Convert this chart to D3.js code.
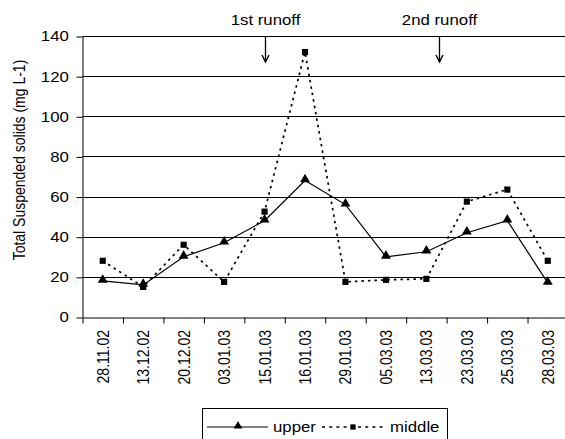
<!DOCTYPE html>
<html>
<head>
<meta charset="utf-8">
<script src="https://cdn.jsdelivr.net/npm/d3@7"></script>
<style>
  body { margin: 0; background: #fff; }
  svg { display: block; font-family: "Liberation Sans", Arial, sans-serif; }
</style>
</head>
<body>
<svg id="svgId"></svg>
<script>
// dates of sampling
var dates = ["28.11.02", "13.12.02", "20.12.02", "03.01.03", "15.01.03", "16.01.03",
             "29.01.03", "05.03.03", "13.03.03", "23.03.03", "25.03.03", "28.03.03"];
var upper = [18, 16, 30, 37, 48, 68, 56, 30, 32.5, 42, 48, 17];
var middle = [28, 15, 36, 17.5, 52.5, 132, 17.5, 18.5, 19, 57.5, 63.5, 28];
var yTicks = [0, 20, 40, 60, 80, 100, 120, 140];
// runoff events, position as category index
var runoffLabels = ["1st runoff", "2nd runoff"];
var runoffPos = [4.5, 8.82];

var svgWidth = 565, svgHeight = 439;
var margin = { top: 36, left: 82.5, bottom: 122 };
var plotRight = 568;
var height = svgHeight - margin.top - margin.bottom;
var fs = 14, sx = 1.2;   // the original text is a bit stretched sideways

var svg = d3.select("#svgId")
    .attr("width", svgWidth)
    .attr("height", svgHeight);

var x = d3.scaleBand().domain(dates).range([margin.left, plotRight]).paddingInner(0).paddingOuter(0);
var xi = d3.scaleLinear().domain([0, dates.length]).range([margin.left, plotRight]);
var y = d3.scaleLinear().domain([0, 140]).range([margin.top + height, margin.top]);

// gridlines
svg.append("g")
    .selectAll("line")
    .data(yTicks.filter(function (d) { return d > 0; }))
    .enter().append("line")
    .attr("x1", margin.left).attr("x2", plotRight)
    .attr("y1", function (d) { return Math.round(y(d)) + 0.5; })
    .attr("y2", function (d) { return Math.round(y(d)) + 0.5; })
    .attr("stroke", "#000")
    .attr("stroke-width", 1);

// y axis
var yAxis = svg.append("g")
    .attr("transform", "translate(" + margin.left + ",0.5)")
    .call(d3.axisLeft(y).tickValues(yTicks).tickSize(6).tickSizeOuter(0));
yAxis.selectAll("text")
    .attr("font-size", fs).attr("fill", "#000")
    .attr("font-family", "Liberation Sans, Arial, sans-serif")
    .attr("x", -11.4)
    .attr("transform", "scale(" + sx + ",1)");
yAxis.selectAll("line").attr("stroke", "#000");
yAxis.select(".domain").attr("stroke", "#000");

// x axis
var xAxis = svg.append("g")
    .attr("transform", "translate(0," + (Math.round(y(0)) + 0.5) + ")")
    .call(d3.axisBottom(xi).tickValues(d3.range(0, dates.length + 1)).tickFormat("").tickSize(6).tickSizeOuter(0));
xAxis.selectAll("line").attr("stroke", "#000");
xAxis.select(".domain").attr("stroke", "#000");

svg.append("g")
    .selectAll("text")
    .data(dates)
    .enter().append("text")
    .attr("transform", function (d) {
        return "translate(" + (x(d) + x.bandwidth() / 2 + 6) + "," + (y(0) + 13) + ") scale(" + sx + ",1) rotate(-90)";
    })
    .attr("text-anchor", "end")
    .attr("font-size", fs)
    .attr("fill", "#000")
    .text(function (d) { return d; });

// y label
svg.append("text")
    .attr("transform", "translate(25,160) scale(" + sx + ",1) rotate(-90)")
    .attr("text-anchor", "middle")
    .attr("font-size", fs)
    .attr("fill", "#000")
    .text("Total Suspended solids (mg L-1)");

var cx = function (d, i) { return x(dates[i]) + x.bandwidth() / 2; };

// middle series (dotted)
svg.append("path")
    .datum(middle)
    .attr("fill", "none")
    .attr("stroke", "#000")
    .attr("stroke-width", 1.7)
    .attr("stroke-dasharray", "2.5,4")
    .attr("d", d3.line().x(cx).y(function (d) { return y(d); }));

// upper series (solid)
svg.append("path")
    .datum(upper)
    .attr("fill", "none")
    .attr("stroke", "#000")
    .attr("stroke-width", 1.2)
    .attr("d", d3.line().x(cx).y(function (d) { return y(d); }));

var tri = d3.symbol().type(d3.symbolTriangle).size(42);
var sq = d3.symbol().type(d3.symbolSquare).size(38);

svg.append("g").selectAll("path")
    .data(middle).enter().append("path")
    .attr("transform", function (d, i) { return "translate(" + cx(d, i) + "," + y(d) + ")"; })
    .attr("d", sq).attr("fill", "#000");

svg.append("g").selectAll("path")
    .data(upper).enter().append("path")
    .attr("transform", function (d, i) { return "translate(" + cx(d, i) + "," + (y(d) - 1) + ")"; })
    .attr("d", tri).attr("fill", "#000");

// runoff annotations
runoffLabels.forEach(function (lab, i) {
    var ax = Math.round(xi(runoffPos[i])) + 0.5;
    var ay = y(140), tip = y(140) + 26;
    svg.append("line")
        .attr("x1", ax).attr("x2", ax)
        .attr("y1", ay).attr("y2", tip)
        .attr("stroke", "#000").attr("stroke-width", 1.3);
    svg.append("path")
        .attr("d", "M" + (ax - 3.5) + "," + (tip - 7) + "L" + ax + "," + tip + "L" + (ax + 3.5) + "," + (tip - 7))
        .attr("fill", "none").attr("stroke", "#000").attr("stroke-width", 1.4);
    svg.append("text")
        .attr("transform", "translate(" + ax + ",25) scale(" + sx + ",1)")
        .attr("text-anchor", "middle")
        .attr("font-size", fs)
        .attr("fill", "#000")
        .text(lab);
});

// legend
var lg = svg.append("g");
lg.append("rect")
    .attr("x", 202.5).attr("y", 408.5)
    .attr("width", 245).attr("height", 40)
    .attr("fill", "#fff").attr("stroke", "#000").attr("stroke-width", 1);
lg.append("line").attr("x1", 207).attr("x2", 268).attr("y1", 427).attr("y2", 427)
    .attr("stroke", "#000").attr("stroke-width", 1.2);
lg.append("path").attr("transform", "translate(238,426)").attr("d", d3.symbol().type(d3.symbolTriangle).size(32)).attr("fill", "#000");
lg.append("text").attr("transform", "translate(273,431.5) scale(" + sx + ",1)")
    .attr("font-size", fs).attr("fill", "#000").text("upper");
lg.append("line").attr("x1", 322).attr("x2", 386).attr("y1", 427).attr("y2", 427)
    .attr("stroke", "#000").attr("stroke-width", 1.6).attr("stroke-dasharray", "3,4.2");
lg.append("path").attr("transform", "translate(353,427)").attr("d", d3.symbol().type(d3.symbolSquare).size(28)).attr("fill", "#000");
lg.append("text").attr("transform", "translate(390,431.5) scale(" + sx + ",1)")
    .attr("font-size", fs).attr("fill", "#000").text("middle");
</script>
</body>
</html>
